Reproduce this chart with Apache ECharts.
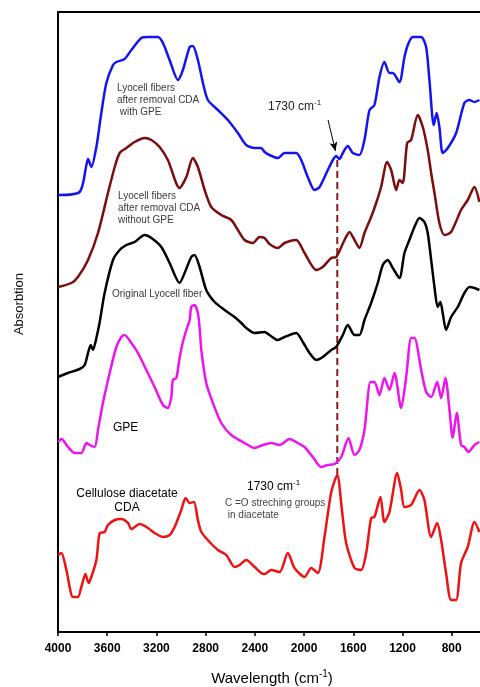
<!DOCTYPE html>
<html>
<head>
<meta charset="utf-8">
<script src="https://cdn.jsdelivr.net/npm/echarts@6/dist/echarts.min.js"></script>
<style>
  html, body { margin: 0; padding: 0; background: #fff; }
  #chart { width: 480px; height: 687px; }
</style>
</head>
<body>
<div id="chart"></div>
<script>
// FTIR spectra: [wavenumber (cm-1), absorption (offset, arbitrary units)]
const wavenumberTicks = [4000, 3600, 3200, 2800, 2400, 2000, 1600, 1200, 800];

const lyocellWithGpe = [
  [4000,437],[3824,440],[3769,467],[3756,473],[3729,465],[3688,485],[3648,519],[3607,549],
  [3553,567],[3526,570],[3459,573],[3404,582],[3323,594],[3269,595],[3188,595],[3147,589],
  [3093,572],[3025,552],[2985,562],[2930,585],[2904,586],[2863,572],[2822,549],[2782,532],
  [2700,522],[2619,512],[2538,499],[2470,487],[2402,484],[2349,484],[2321,480],[2281,477],
  [2213,474],[2159,479],[2064,479],[2023,472],[1970,455],[1915,442],[1874,445],[1807,462],
  [1766,472],[1739,476],[1712,473],[1685,479],[1645,486],[1604,479],[1550,477],[1509,492],
  [1468,522],[1428,527],[1387,555],[1347,570],[1306,559],[1279,559],[1225,550],[1184,575],
  [1157,587],[1117,595],[1048,595],[1008,585],[981,552],[946,507],[922,519],[900,505],
  [873,479],[832,484],[764,499],[697,529],[656,532],[615,530],[575,532]
];

const lyocellWithoutGpe = [
  [4000,345],[3891,349],[3838,355],[3756,372],[3675,399],[3594,439],[3539,465],[3499,479],
  [3444,484],[3377,490],[3296,494],[3241,492],[3174,485],[3107,472],[3012,444],[2957,455],
  [2904,474],[2863,465],[2808,442],[2754,425],[2673,417],[2592,412],[2538,402],[2484,392],
  [2416,389],[2362,395],[2321,394],[2281,388],[2213,384],[2159,389],[2064,392],[1996,379],
  [1901,362],[1848,365],[1779,374],[1739,375],[1671,392],[1631,400],[1590,392],[1550,384],
  [1509,399],[1455,415],[1414,429],[1374,445],[1325,470],[1292,462],[1251,442],[1225,452],
  [1198,449],[1162,489],[1130,492],[1076,517],[1035,505],[995,482],[967,459],[940,439],
  [900,409],[859,397],[805,400],[724,422],[670,432],[615,445],[575,430]
];

const originalLyocell = [
  [4000,255],[3919,259],[3824,263],[3783,267],[3756,279],[3734,287],[3716,282],[3688,294],
  [3661,310],[3621,339],[3553,372],[3499,382],[3444,387],[3377,390],[3296,397],[3241,394],
  [3160,385],[3093,369],[3012,349],[2971,359],[2917,375],[2890,377],[2849,365],[2795,342],
  [2727,330],[2646,322],[2565,315],[2510,309],[2470,304],[2402,299],[2321,300],[2281,297],
  [2213,292],[2159,295],[2064,299],[2010,290],[1956,279],[1901,272],[1848,275],[1779,282],
  [1739,285],[1685,297],[1645,307],[1590,297],[1550,297],[1509,312],[1455,329],[1401,349],
  [1360,367],[1320,372],[1279,364],[1225,354],[1184,379],[1144,392],[1103,405],[1062,414],
  [1022,410],[995,399],[967,372],[940,345],[914,325],[892,330],[873,319],[846,302],
  [805,315],[751,325],[697,339],[656,345],[615,344],[575,342]
];

const gpe = [
  [4000,190],[3972,193],[3919,185],[3864,179],[3810,179],[3769,189],[3743,187],[3702,185],
  [3675,202],[3635,229],[3580,259],[3526,285],[3485,295],[3459,297],[3404,289],[3350,279],
  [3282,262],[3215,245],[3147,227],[3107,224],[3079,235],[3066,252],[3038,254],[3012,274],
  [2985,290],[2957,302],[2930,312],[2917,325],[2890,327],[2863,319],[2849,304],[2835,282],
  [2795,249],[2741,229],[2673,209],[2592,197],[2484,189],[2402,184],[2335,187],[2267,189],
  [2199,187],[2118,193],[2051,189],[1996,185],[1929,175],[1861,165],[1807,167],[1752,168],
  [1698,175],[1639,194],[1590,177],[1550,182],[1509,202],[1460,250],[1428,250],[1387,237],
  [1347,254],[1306,242],[1265,259],[1211,224],[1170,255],[1130,294],[1103,294],[1048,262],
  [1008,240],[967,235],[918,250],[886,234],[851,254],[818,222],[792,194],[759,219],
  [724,187],[697,185],[664,180],[615,187],[575,190]
];

const celluloseDiacetate = [
  [4000,77],[3972,79],[3932,62],[3878,35],[3838,35],[3810,45],[3777,58],[3751,49],
  [3729,55],[3688,72],[3661,99],[3621,100],[3594,107],[3539,112],[3485,113],[3431,109],
  [3404,103],[3336,108],[3269,104],[3215,99],[3147,95],[3093,97],[3052,105],[2998,122],
  [2963,134],[2930,129],[2895,130],[2863,112],[2835,100],[2768,90],[2700,82],[2632,77],
  [2565,65],[2524,67],[2470,72],[2402,65],[2349,59],[2321,58],[2267,62],[2199,60],
  [2132,79],[2078,64],[1996,55],[1942,64],[1888,59],[1834,95],[1779,140],[1730,157],
  [1695,125],[1658,89],[1590,64],[1536,62],[1495,79],[1455,114],[1428,115],[1379,135],
  [1347,110],[1306,120],[1243,159],[1211,142],[1184,125],[1130,127],[1062,142],[1022,132],
  [967,95],[918,109],[886,92],[846,59],[805,32],[764,32],[724,69],[670,85],[615,110],[575,100]
];

// C=O stretching band marker
const carbonylBand = 1730;
const carbonylMarker = [[carbonylBand, 157], [carbonylBand, 474]];
const carbonylArrow = [[1805, 512], [1745, 481]];

const FONT = '"Liberation Sans", Arial, sans-serif';

function spectrum(name, data, color) {
  return {
    name, type: 'line', data,
    showSymbol: false, smooth: 0.25, silent: true,
    lineStyle: { color, width: 2.5 },
    z: 3
  };
}

function label(x, y, text, size, color, align) {
  return {
    type: 'text', x, y,
    style: {
      text, fontSize: size, fill: color, fontFamily: FONT,
      lineHeight: size + 2, align: align || 'left', verticalAlign: 'top'
    }
  };
}

const chart = echarts.init(document.getElementById('chart'), null, { renderer: 'canvas' });

chart.setOption({
  backgroundColor: '#fff',
  animation: false,
  grid: { left: 58, right: 0, top: 12, bottom: 55 },
  xAxis: [{
    type: 'value', min: 570, max: 4000, inverse: true,
    axisLine: { show: true, lineStyle: { color: '#000', width: 2 } },
    axisTick: { show: true, customValues: wavenumberTicks, length: 4, lineStyle: { color: '#000', width: 1.5 } },
    axisLabel: {
      customValues: wavenumberTicks, formatter: v => String(v),
      fontSize: 12, fontWeight: 'bold', color: '#000', fontFamily: FONT, margin: 11
    },
    splitLine: { show: false }
  }, {
    type: 'value', min: 570, max: 4000, inverse: true, position: 'top',
    axisLine: { show: true, lineStyle: { color: '#000', width: 2 } },
    axisTick: { show: false }, axisLabel: { show: false }, splitLine: { show: false }
  }],
  yAxis: {
    type: 'value', min: 0, max: 620,
    axisLine: { show: true, lineStyle: { color: '#000', width: 2 } },
    axisTick: { show: false }, axisLabel: { show: false }, splitLine: { show: false }
  },
  series: [
    spectrum('Lyocell fibers after removal CDA with GPE', lyocellWithGpe, '#1414f0'),
    spectrum('Lyocell fibers after removal CDA without GPE', lyocellWithoutGpe, '#7d0c0c'),
    spectrum('Original Lyocell fiber', originalLyocell, '#000000'),
    spectrum('GPE', gpe, '#ee14ee'),
    spectrum('Cellulose diacetate CDA', celluloseDiacetate, '#ee1212'),
    {
      name: '1730', type: 'line', data: carbonylMarker, silent: true,
      showSymbol: false, z: 2,
      lineStyle: { color: '#8b1a1a', width: 2, type: [7, 4] },
      markLine: {
        silent: true, symbol: ['none', 'arrow'], symbolSize: [6, 9],
        label: { show: false },
        lineStyle: { color: '#000', width: 1, type: 'solid' },
        data: [[{ coord: carbonylArrow[0] }, { coord: carbonylArrow[1] }]]
      }
    }
  ],
  graphic: [
    label(117, 82, 'Lyocell fibers\nafter removal CDA\n with GPE', 10, '#3a3a3a'),
    label(118, 190, 'Lyocell fibers\nafter removal CDA\nwithout GPE', 10, '#3a3a3a'),
    label(112, 288, 'Original Lyocell fiber', 10, '#3a3a3a'),
    label(113, 421, 'GPE', 12, '#000'),
    label(127, 487, 'Cellulose diacetate\nCDA', 12, '#000', 'center'),
    label(225, 497, 'C =O streching groups\n in diacetate', 10, '#444'),
    {
      type: 'text', x: 268, y: 99,
      style: {
        text: '{t|1730 cm}{s|-1}', fontFamily: FONT,
        rich: { t: { fontSize: 12, fill: '#222', fontFamily: FONT }, s: { fontSize: 8, fill: '#222', fontFamily: FONT, padding: [0, 0, 8, 0] } }
      }
    },
    {
      type: 'text', x: 247, y: 479,
      style: {
        text: '{t|1730 cm}{s|-1}', fontFamily: FONT,
        rich: { t: { fontSize: 12, fill: '#000', fontFamily: FONT }, s: { fontSize: 8, fill: '#000', fontFamily: FONT, padding: [0, 0, 8, 0] } }
      }
    },
    {
      type: 'text', x: 19, y: 304, rotation: Math.PI / 2,
      style: { text: 'Absorbtion', fontSize: 13, fill: '#111', fontFamily: FONT, align: 'center', verticalAlign: 'middle' }
    },
    {
      type: 'text', x: 272, y: 679,
      style: {
        text: '{t|Wavelength (cm}{s|-1}{t|)}', align: 'center', verticalAlign: 'middle', fontFamily: FONT,
        rich: { t: { fontSize: 15, fill: '#000', fontFamily: FONT }, s: { fontSize: 10, fill: '#000', fontFamily: FONT, padding: [0, 0, 9, 0] } }
      }
    }
  ]
});
</script>
</body>
</html>
